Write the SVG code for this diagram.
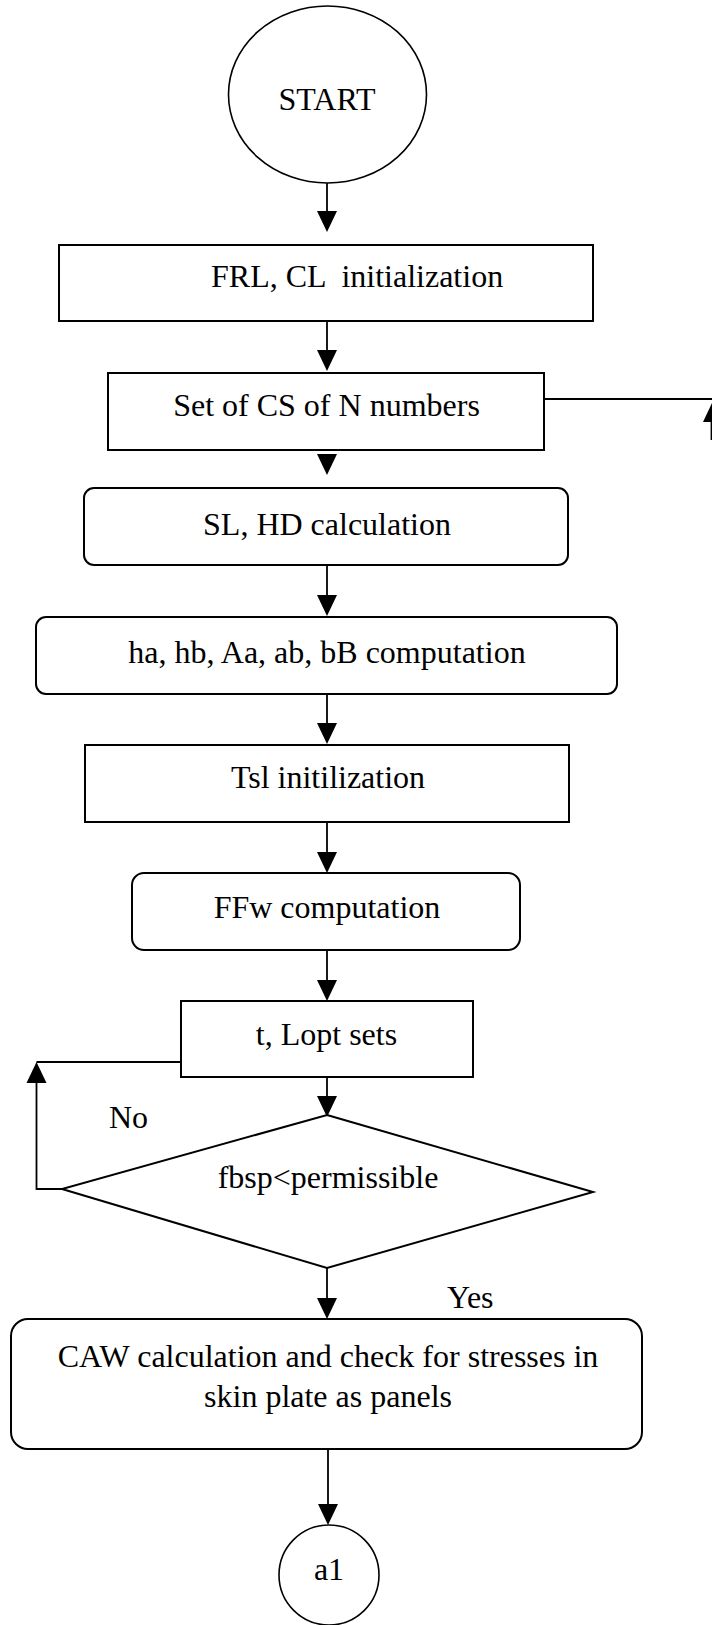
<svg xmlns="http://www.w3.org/2000/svg" width="712" height="1625" viewBox="0 0 712 1625">
  <style>
    .shape { fill: #fff; stroke: #000; stroke-width: 2; }
    .thin { fill: #fff; stroke: #000; stroke-width: 1.6; }
    .wire { fill: none; stroke: #000; stroke-width: 1.8; }
    .head { fill: #000; stroke: none; }
    text { font-family: "Liberation Serif", "Times New Roman", serif; font-size: 32px; fill: #000; }
    .c { text-anchor: middle; }
  </style>
  <defs>
    <!-- downward arrowhead, tip at origin -->
    <path id="down" class="head" d="M0,0 L-10,-21 L10,-21 Z"/>
    <!-- upward arrowhead, tip at origin -->
    <path id="up" class="head" d="M0,0 L-10,21 L10,21 Z"/>
  </defs>
  <rect x="0" y="0" width="712" height="1625" fill="#fff"/>

  <g id="connectors">
    <line class="wire" x1="327" y1="183" x2="327" y2="215"/>
    <use href="#down" x="327" y="232"/>
    <line class="wire" x1="327" y1="321" x2="327" y2="353"/>
    <use href="#down" x="327" y="371"/>
    <use href="#down" x="327" y="475"/>
    <line class="wire" x1="327" y1="565" x2="327" y2="598"/>
    <use href="#down" x="327" y="616"/>
    <line class="wire" x1="327" y1="694" x2="327" y2="726"/>
    <use href="#down" x="327" y="744"/>
    <line class="wire" x1="327" y1="822" x2="327" y2="855"/>
    <use href="#down" x="327" y="873"/>
    <line class="wire" x1="327" y1="950" x2="327" y2="983"/>
    <use href="#down" x="327" y="1001"/>
    <line class="wire" x1="327" y1="1077" x2="327" y2="1100"/>
    <use href="#down" x="327" y="1117"/>
    <line class="wire" x1="327" y1="1268" x2="327" y2="1300"/>
    <use href="#down" x="327" y="1319"/>
    <line class="wire" x1="328" y1="1449" x2="328" y2="1507"/>
    <use href="#down" x="328" y="1525"/>
    <!-- loop back from the decision (No branch) -->
    <polyline class="wire" points="62,1189 36.5,1189 36.5,1080"/>
    <use href="#up" x="36.5" y="1062"/>
    <line class="wire" x1="36.5" y1="1062" x2="181" y2="1062"/>
    <!-- exit to the right of the CS set -->
    <line class="wire" x1="544" y1="399" x2="712" y2="399"/>
    <use href="#up" x="713" y="401"/>
    <line class="wire" x1="711.5" y1="420" x2="711.5" y2="440"/>
  </g>

  <g id="start">
    <ellipse class="thin" cx="327.5" cy="94.5" rx="99" ry="88.5"/>
    <text class="c" x="327" y="110">START</text>
  </g>

  <g id="frl-cl-init">
    <rect class="shape" x="59" y="245" width="534" height="76"/>
    <text x="211" y="287" xml:space="preserve">FRL, CL  initialization</text>
  </g>

  <g id="cs-set">
    <rect class="shape" x="108" y="373" width="436" height="77"/>
    <text class="c" x="326.5" y="416">Set of CS of N numbers</text>
  </g>

  <g id="sl-hd-calc">
    <rect class="shape" x="84" y="488" width="484" height="77" rx="10" ry="10"/>
    <text class="c" x="327" y="535">SL, HD calculation</text>
  </g>

  <g id="ha-hb-comp">
    <rect class="shape" x="36" y="617" width="581" height="77" rx="10" ry="10"/>
    <text class="c" x="327" y="663">ha, hb, Aa, ab, bB computation</text>
  </g>

  <g id="tsl-init">
    <rect class="shape" x="85" y="745" width="484" height="77"/>
    <text class="c" x="328" y="788">Tsl initilization</text>
  </g>

  <g id="ffw-comp">
    <rect class="shape" x="132" y="873" width="388" height="77" rx="12" ry="12"/>
    <text class="c" x="327" y="918">FFw computation</text>
  </g>

  <g id="t-lopt-sets">
    <rect class="shape" x="181" y="1001" width="292" height="76"/>
    <text class="c" x="326.5" y="1045">t, Lopt sets</text>
  </g>

  <g id="fbsp-check">
    <polygon class="shape" points="327,1115 593,1192 327,1268 62,1189"/>
    <text class="c" x="328" y="1188">fbsp&lt;permissible</text>
    <text x="109" y="1128">No</text>
    <text x="447" y="1308">Yes</text>
  </g>

  <g id="caw-calc">
    <rect class="shape" x="11" y="1319" width="631" height="130" rx="17" ry="17"/>
    <text class="c" x="328" y="1367">CAW calculation and check for stresses in</text>
    <text class="c" x="328" y="1407">skin plate as panels</text>
  </g>

  <g id="a1">
    <ellipse class="thin" cx="329" cy="1575" rx="50" ry="50"/>
    <text class="c" x="329" y="1580">a1</text>
  </g>
</svg>
